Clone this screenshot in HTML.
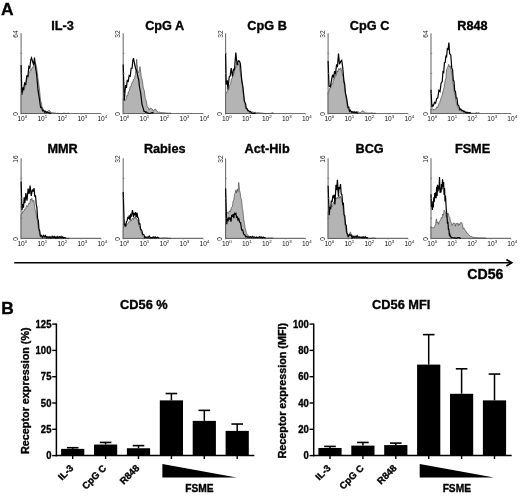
<!DOCTYPE html>
<html><head><meta charset="utf-8"><style>
html,body{margin:0;padding:0;background:#fff;}
body{width:520px;height:496px;overflow:hidden;}
svg{display:block;font-family:"Liberation Sans", sans-serif;will-change:transform;}
text[font-weight=bold]{stroke:#000;stroke-width:0.35px;}
</style></head><body>
<svg width="520" height="496" viewBox="0 0 520 496" font-family='"Liberation Sans", sans-serif'>
<rect width="520" height="496" fill="#fff"/>
<text x="1" y="14.7" font-size="17.4" font-weight="bold">A</text>
<text x="62.6" y="29.6" font-size="12.7" font-weight="bold" text-anchor="middle">IL-3</text>
<path d="M21.10,33.30 L21.10,113.50 L101.10,113.50" fill="none" stroke="#707070" stroke-width="1.1"/>
<path d="M21.10,113.50 L21.10,94.60 L22.13,93.59 L23.17,90.46 L24.20,90.48 L25.10,85.69 L26.00,84.41 L26.90,79.19 L27.77,78.21 L28.63,73.65 L29.50,72.95 L30.37,69.79 L31.23,70.40 L32.10,67.67 L33.10,67.59 L34.10,62.64 L35.40,62.57 L36.70,67.49 L38.00,78.90 L39.30,87.80 L40.60,100.62 L41.30,102.51 L42.00,107.23 L43.30,109.49 L44.25,110.86 L45.20,110.75 L46.15,111.68 L47.10,111.85 L48.10,111.49 L49.10,110.02 L50.10,111.69 L51.10,112.28 L52.10,112.85 L53.10,112.75 L54.10,112.88 L55.10,113.00 L56.54,113.42 L57.98,113.19 L59.42,113.50 L60.86,113.50 L62.30,113.50 L63.74,113.02 L65.18,113.34 L66.62,113.49 L68.06,113.14 L69.10,113.31 L69.10,113.50 Z" fill="#b4b4b4" stroke="#444" stroke-width="0.65"/>
<path d="M21.10,65.10 L21.90,94.60 L22.75,87.64 L23.60,89.03 L24.60,83.31 L25.60,85.01 L26.90,75.22 L27.85,76.88 L28.80,66.78 L29.80,68.21 L30.80,59.55 L31.50,57.88 L32.80,62.27 L33.65,64.69 L34.50,57.54 L35.40,66.71 L36.70,75.06 L38.00,90.21 L39.30,98.04 L40.60,107.46 L41.60,107.17 L42.60,110.83 L43.60,110.23 L44.60,112.16 L45.43,111.39 L46.27,112.60 L47.10,111.99 L48.54,112.67 L49.98,113.28 L51.10,113.04" fill="none" stroke="#000" stroke-width="1.2" stroke-linejoin="miter" stroke-miterlimit="3"/>
<line x1="20.50" y1="93.45" x2="22.30" y2="93.45" stroke="#777" stroke-width="0.8"/>
<line x1="20.50" y1="73.40" x2="22.30" y2="73.40" stroke="#777" stroke-width="0.8"/>
<line x1="20.50" y1="53.35" x2="22.30" y2="53.35" stroke="#777" stroke-width="0.8"/>
<line x1="21.10" y1="113.50" x2="21.10" y2="114.70" stroke="#888" stroke-width="0.6"/>
<text x="22.30" y="120.90" font-size="6.6" fill="#111" text-anchor="middle">10<tspan dy="-2.6" font-size="4.4">0</tspan></text>
<line x1="41.10" y1="113.50" x2="41.10" y2="114.70" stroke="#888" stroke-width="0.6"/>
<text x="42.30" y="120.90" font-size="6.6" fill="#111" text-anchor="middle">10<tspan dy="-2.6" font-size="4.4">1</tspan></text>
<line x1="61.10" y1="113.50" x2="61.10" y2="114.70" stroke="#888" stroke-width="0.6"/>
<text x="62.30" y="120.90" font-size="6.6" fill="#111" text-anchor="middle">10<tspan dy="-2.6" font-size="4.4">2</tspan></text>
<line x1="81.10" y1="113.50" x2="81.10" y2="114.70" stroke="#888" stroke-width="0.6"/>
<text x="82.30" y="120.90" font-size="6.6" fill="#111" text-anchor="middle">10<tspan dy="-2.6" font-size="4.4">3</tspan></text>
<line x1="101.10" y1="113.50" x2="101.10" y2="114.70" stroke="#888" stroke-width="0.6"/>
<text x="102.30" y="120.90" font-size="6.6" fill="#111" text-anchor="middle">10<tspan dy="-2.6" font-size="4.4">4</tspan></text>
<text transform="translate(18.10,30.40) rotate(-90)" font-size="6.6" fill="#222" text-anchor="end">64</text>
<text transform="translate(17.90,114.00) rotate(-90)" font-size="6.6" fill="#222" text-anchor="middle">0</text>
<text x="164.7" y="29.6" font-size="12.7" font-weight="bold" text-anchor="middle">CpG A</text>
<path d="M123.20,33.30 L123.20,113.50 L203.20,113.50" fill="none" stroke="#707070" stroke-width="1.1"/>
<path d="M123.20,113.50 L123.20,98.50 L124.20,100.20 L125.20,100.22 L126.00,99.84 L126.80,95.48 L127.60,95.80 L128.47,91.67 L129.33,91.07 L130.20,86.77 L131.07,86.36 L131.93,82.59 L132.80,82.25 L133.67,79.03 L134.53,78.61 L135.40,74.58 L136.70,59.28 L137.80,72.65 L138.90,72.15 L140.00,66.58 L141.30,76.89 L142.30,80.35 L143.30,87.82 L144.30,90.60 L145.30,98.32 L146.25,100.82 L147.20,106.82 L148.20,107.61 L149.20,110.04 L150.20,108.06 L151.20,108.44 L152.20,109.09 L153.20,111.21 L154.20,109.73 L155.20,109.31 L156.03,109.62 L156.87,111.36 L157.70,111.81 L158.57,112.24 L159.45,112.04 L160.32,112.56 L161.20,112.28 L162.12,112.88 L163.03,112.44 L163.95,112.75 L164.87,112.83 L165.78,112.92 L166.70,113.00 L168.14,113.23 L169.58,113.10 L171.02,113.02 L171.20,113.50 L171.20,113.50 Z" fill="#b4b4b4" stroke="#444" stroke-width="0.65"/>
<path d="M123.20,64.50 L124.30,100.55 L125.60,85.04 L126.43,87.84 L127.27,79.92 L128.10,82.09 L129.15,75.57 L130.20,76.22 L131.15,68.27 L132.10,68.24 L132.80,60.50 L133.50,58.11 L134.10,61.61 L135.40,67.74 L136.70,71.09 L138.00,77.24 L138.70,79.48 L139.40,86.52 L140.70,93.23 L142.00,104.36 L143.30,108.69 L144.00,111.35 L144.70,111.28 L145.53,112.30 L146.37,112.00 L147.20,112.70 L148.64,113.43 L150.08,113.50 L151.52,112.80 L152.96,112.61 L153.20,113.29" fill="none" stroke="#000" stroke-width="1.2" stroke-linejoin="miter" stroke-miterlimit="3"/>
<line x1="122.60" y1="93.45" x2="124.40" y2="93.45" stroke="#777" stroke-width="0.8"/>
<line x1="122.60" y1="73.40" x2="124.40" y2="73.40" stroke="#777" stroke-width="0.8"/>
<line x1="122.60" y1="53.35" x2="124.40" y2="53.35" stroke="#777" stroke-width="0.8"/>
<line x1="123.20" y1="113.50" x2="123.20" y2="114.70" stroke="#888" stroke-width="0.6"/>
<text x="124.40" y="120.90" font-size="6.6" fill="#111" text-anchor="middle">10<tspan dy="-2.6" font-size="4.4">0</tspan></text>
<line x1="143.20" y1="113.50" x2="143.20" y2="114.70" stroke="#888" stroke-width="0.6"/>
<text x="144.40" y="120.90" font-size="6.6" fill="#111" text-anchor="middle">10<tspan dy="-2.6" font-size="4.4">1</tspan></text>
<line x1="163.20" y1="113.50" x2="163.20" y2="114.70" stroke="#888" stroke-width="0.6"/>
<text x="164.40" y="120.90" font-size="6.6" fill="#111" text-anchor="middle">10<tspan dy="-2.6" font-size="4.4">2</tspan></text>
<line x1="183.20" y1="113.50" x2="183.20" y2="114.70" stroke="#888" stroke-width="0.6"/>
<text x="184.40" y="120.90" font-size="6.6" fill="#111" text-anchor="middle">10<tspan dy="-2.6" font-size="4.4">3</tspan></text>
<line x1="203.20" y1="113.50" x2="203.20" y2="114.70" stroke="#888" stroke-width="0.6"/>
<text x="204.40" y="120.90" font-size="6.6" fill="#111" text-anchor="middle">10<tspan dy="-2.6" font-size="4.4">4</tspan></text>
<text transform="translate(120.20,30.40) rotate(-90)" font-size="6.6" fill="#222" text-anchor="end">32</text>
<text transform="translate(120.00,114.00) rotate(-90)" font-size="6.6" fill="#222" text-anchor="middle">0</text>
<text x="267.1" y="29.6" font-size="12.7" font-weight="bold" text-anchor="middle">CpG B</text>
<path d="M225.60,33.30 L225.60,113.50 L305.60,113.50" fill="none" stroke="#707070" stroke-width="1.1"/>
<path d="M225.60,113.50 L225.60,93.40 L226.60,93.03 L227.60,90.26 L228.60,90.08 L229.60,85.31 L230.60,83.75 L231.47,78.63 L232.33,78.35 L233.20,74.28 L234.20,73.63 L235.20,67.16 L236.15,67.36 L237.10,63.24 L238.10,65.24 L239.10,63.26 L240.40,73.07 L241.70,78.65 L243.00,91.99 L244.30,100.77 L245.60,108.32 L246.60,108.93 L247.60,110.96 L248.60,110.66 L249.60,111.88 L250.60,111.79 L251.43,112.26 L252.27,111.85 L253.10,112.60 L253.93,112.03 L254.77,112.70 L255.60,112.22 L256.46,112.82 L257.31,112.51 L258.17,112.71 L259.03,112.79 L259.89,112.86 L260.74,112.93 L261.60,113.00 L263.04,113.23 L264.48,113.44 L265.92,113.50 L267.36,113.50 L268.80,113.50 L270.24,113.50 L271.68,113.00 L273.12,112.66 L273.60,113.32 L273.60,113.50 Z" fill="#b4b4b4" stroke="#444" stroke-width="0.65"/>
<path d="M225.60,53.50 L226.20,84.58 L227.30,80.41 L227.90,89.74 L229.20,77.04 L230.20,75.92 L231.20,68.05 L232.50,76.45 L233.50,69.35 L234.50,69.65 L235.80,52.65 L237.10,65.00 L238.40,60.81 L239.50,61.23 L240.40,63.90 L241.70,80.10 L243.00,87.37 L244.30,100.75 L245.60,103.81 L246.30,108.38 L247.00,108.45 L247.80,110.59 L248.60,110.35 L249.60,111.99 L250.60,111.44 L251.60,113.06 L253.04,113.39 L254.48,113.38 L255.60,112.67" fill="none" stroke="#000" stroke-width="1.2" stroke-linejoin="miter" stroke-miterlimit="3"/>
<line x1="225.00" y1="93.45" x2="226.80" y2="93.45" stroke="#777" stroke-width="0.8"/>
<line x1="225.00" y1="73.40" x2="226.80" y2="73.40" stroke="#777" stroke-width="0.8"/>
<line x1="225.00" y1="53.35" x2="226.80" y2="53.35" stroke="#777" stroke-width="0.8"/>
<line x1="225.60" y1="113.50" x2="225.60" y2="114.70" stroke="#888" stroke-width="0.6"/>
<text x="226.80" y="120.90" font-size="6.6" fill="#111" text-anchor="middle">10<tspan dy="-2.6" font-size="4.4">0</tspan></text>
<line x1="245.60" y1="113.50" x2="245.60" y2="114.70" stroke="#888" stroke-width="0.6"/>
<text x="246.80" y="120.90" font-size="6.6" fill="#111" text-anchor="middle">10<tspan dy="-2.6" font-size="4.4">1</tspan></text>
<line x1="265.60" y1="113.50" x2="265.60" y2="114.70" stroke="#888" stroke-width="0.6"/>
<text x="266.80" y="120.90" font-size="6.6" fill="#111" text-anchor="middle">10<tspan dy="-2.6" font-size="4.4">2</tspan></text>
<line x1="285.60" y1="113.50" x2="285.60" y2="114.70" stroke="#888" stroke-width="0.6"/>
<text x="286.80" y="120.90" font-size="6.6" fill="#111" text-anchor="middle">10<tspan dy="-2.6" font-size="4.4">3</tspan></text>
<line x1="305.60" y1="113.50" x2="305.60" y2="114.70" stroke="#888" stroke-width="0.6"/>
<text x="306.80" y="120.90" font-size="6.6" fill="#111" text-anchor="middle">10<tspan dy="-2.6" font-size="4.4">4</tspan></text>
<text transform="translate(222.60,30.40) rotate(-90)" font-size="6.6" fill="#222" text-anchor="end">32</text>
<text transform="translate(222.40,114.00) rotate(-90)" font-size="6.6" fill="#222" text-anchor="middle">0</text>
<text x="369.6" y="29.6" font-size="12.7" font-weight="bold" text-anchor="middle">CpG C</text>
<path d="M328.10,33.30 L328.10,113.50 L408.10,113.50" fill="none" stroke="#707070" stroke-width="1.1"/>
<path d="M328.10,113.50 L328.10,92.00 L329.03,91.46 L329.97,87.80 L330.90,87.34 L331.80,83.84 L332.70,84.01 L333.60,78.62 L334.47,78.76 L335.33,74.09 L336.20,75.57 L337.07,70.78 L337.93,72.09 L338.80,68.33 L339.80,69.83 L340.80,67.78 L342.10,72.96 L343.40,77.50 L344.70,89.07 L346.00,97.33 L347.30,106.91 L348.60,109.79 L349.43,111.32 L350.27,111.23 L351.10,112.18 L352.10,111.91 L353.10,112.37 L354.10,112.05 L355.10,112.22 L356.10,111.52 L357.10,111.68 L358.10,111.53 L359.10,112.49 L360.10,112.70 L361.10,112.21 L362.10,110.90 L363.10,111.01 L364.10,111.45 L365.10,112.90 L365.93,112.93 L366.77,112.97 L367.60,113.00 L368.43,113.03 L369.27,113.07 L370.10,113.10 L371.54,112.71 L372.98,113.25 L374.42,113.21 L375.86,113.22 L376.10,113.50 L376.10,113.50 Z" fill="#b4b4b4" stroke="#444" stroke-width="0.65"/>
<path d="M328.10,61.10 L329.00,85.98 L330.30,86.77 L331.60,79.91 L332.60,74.62 L333.60,77.66 L334.55,71.33 L335.50,73.91 L336.50,65.22 L337.50,66.30 L338.50,53.61 L339.50,64.28 L340.80,61.34 L341.70,60.35 L342.70,67.21 L344.00,81.76 L344.70,83.96 L345.40,92.98 L346.70,98.42 L348.00,107.45 L348.80,107.28 L349.60,111.26 L350.43,110.30 L351.27,112.03 L352.10,111.54 L353.10,112.56 L354.10,111.75 L355.10,112.75 L356.10,112.12 L357.54,113.28 L358.10,112.68" fill="none" stroke="#000" stroke-width="1.2" stroke-linejoin="miter" stroke-miterlimit="3"/>
<line x1="327.50" y1="93.45" x2="329.30" y2="93.45" stroke="#777" stroke-width="0.8"/>
<line x1="327.50" y1="73.40" x2="329.30" y2="73.40" stroke="#777" stroke-width="0.8"/>
<line x1="327.50" y1="53.35" x2="329.30" y2="53.35" stroke="#777" stroke-width="0.8"/>
<line x1="328.10" y1="113.50" x2="328.10" y2="114.70" stroke="#888" stroke-width="0.6"/>
<text x="329.30" y="120.90" font-size="6.6" fill="#111" text-anchor="middle">10<tspan dy="-2.6" font-size="4.4">0</tspan></text>
<line x1="348.10" y1="113.50" x2="348.10" y2="114.70" stroke="#888" stroke-width="0.6"/>
<text x="349.30" y="120.90" font-size="6.6" fill="#111" text-anchor="middle">10<tspan dy="-2.6" font-size="4.4">1</tspan></text>
<line x1="368.10" y1="113.50" x2="368.10" y2="114.70" stroke="#888" stroke-width="0.6"/>
<text x="369.30" y="120.90" font-size="6.6" fill="#111" text-anchor="middle">10<tspan dy="-2.6" font-size="4.4">2</tspan></text>
<line x1="388.10" y1="113.50" x2="388.10" y2="114.70" stroke="#888" stroke-width="0.6"/>
<text x="389.30" y="120.90" font-size="6.6" fill="#111" text-anchor="middle">10<tspan dy="-2.6" font-size="4.4">3</tspan></text>
<line x1="408.10" y1="113.50" x2="408.10" y2="114.70" stroke="#888" stroke-width="0.6"/>
<text x="409.30" y="120.90" font-size="6.6" fill="#111" text-anchor="middle">10<tspan dy="-2.6" font-size="4.4">4</tspan></text>
<text transform="translate(325.10,30.40) rotate(-90)" font-size="6.6" fill="#222" text-anchor="end">32</text>
<text transform="translate(324.90,114.00) rotate(-90)" font-size="6.6" fill="#222" text-anchor="middle">0</text>
<text x="472.5" y="29.6" font-size="12.7" font-weight="bold" text-anchor="middle">R848</text>
<path d="M431.00,33.30 L431.00,113.50 L511.00,113.50" fill="none" stroke="#707070" stroke-width="1.1"/>
<path d="M431.00,113.50 L431.00,108.90 L431.98,109.60 L432.95,108.65 L433.93,110.04 L434.90,109.30 L435.87,109.12 L436.83,106.93 L437.80,107.43 L438.80,103.89 L439.80,102.25 L440.80,98.68 L441.90,96.17 L443.00,91.31 L444.10,87.42 L445.20,80.33 L445.90,78.18 L446.60,69.54 L447.80,67.12 L448.70,64.30 L449.60,67.02 L450.30,65.80 L451.00,69.54 L452.20,75.44 L452.95,83.25 L453.70,86.04 L454.45,92.85 L455.20,95.56 L455.90,101.25 L456.60,102.93 L457.50,106.70 L458.40,108.49 L459.50,110.25 L460.60,110.52 L461.45,111.39 L462.30,111.32 L463.15,112.24 L464.00,112.19 L464.83,112.64 L465.67,112.34 L466.50,112.74 L467.33,112.77 L468.17,112.88 L469.00,113.00 L470.44,113.47 L471.88,113.09 L473.32,113.23 L474.76,113.50 L476.20,112.62 L477.64,112.88 L479.00,112.64 L479.00,113.50 Z" fill="#b4b4b4" stroke="#444" stroke-width="0.65"/>
<path d="M431.00,89.80 L431.90,107.25 L432.65,105.19 L433.40,105.74 L434.50,102.25 L435.60,103.23 L436.70,98.51 L437.80,97.80 L438.90,90.32 L440.00,91.56 L441.10,83.18 L442.20,81.53 L442.95,71.72 L443.70,72.42 L444.45,62.65 L445.20,62.41 L445.90,56.23 L446.60,56.61 L447.35,48.70 L448.10,49.16 L448.90,42.56 L449.60,53.48 L450.80,55.10 L451.80,68.29 L452.55,69.66 L453.30,79.96 L454.00,81.15 L454.70,90.84 L455.45,91.36 L456.20,98.02 L456.95,98.12 L457.70,104.66 L458.80,105.76 L459.90,109.72 L460.87,109.00 L461.83,110.56 L462.80,110.41 L463.60,111.47 L464.40,111.20 L465.20,112.30 L466.00,111.98 L466.83,112.90 L467.67,112.21 L468.50,112.95 L469.33,112.70 L470.17,112.80 L471.00,112.90" fill="none" stroke="#000" stroke-width="1.2" stroke-linejoin="miter" stroke-miterlimit="3"/>
<line x1="430.40" y1="93.45" x2="432.20" y2="93.45" stroke="#777" stroke-width="0.8"/>
<line x1="430.40" y1="73.40" x2="432.20" y2="73.40" stroke="#777" stroke-width="0.8"/>
<line x1="430.40" y1="53.35" x2="432.20" y2="53.35" stroke="#777" stroke-width="0.8"/>
<line x1="431.00" y1="113.50" x2="431.00" y2="114.70" stroke="#888" stroke-width="0.6"/>
<text x="432.20" y="120.90" font-size="6.6" fill="#111" text-anchor="middle">10<tspan dy="-2.6" font-size="4.4">0</tspan></text>
<line x1="451.00" y1="113.50" x2="451.00" y2="114.70" stroke="#888" stroke-width="0.6"/>
<text x="452.20" y="120.90" font-size="6.6" fill="#111" text-anchor="middle">10<tspan dy="-2.6" font-size="4.4">1</tspan></text>
<line x1="471.00" y1="113.50" x2="471.00" y2="114.70" stroke="#888" stroke-width="0.6"/>
<text x="472.20" y="120.90" font-size="6.6" fill="#111" text-anchor="middle">10<tspan dy="-2.6" font-size="4.4">2</tspan></text>
<line x1="491.00" y1="113.50" x2="491.00" y2="114.70" stroke="#888" stroke-width="0.6"/>
<text x="492.20" y="120.90" font-size="6.6" fill="#111" text-anchor="middle">10<tspan dy="-2.6" font-size="4.4">3</tspan></text>
<line x1="511.00" y1="113.50" x2="511.00" y2="114.70" stroke="#888" stroke-width="0.6"/>
<text x="512.20" y="120.90" font-size="6.6" fill="#111" text-anchor="middle">10<tspan dy="-2.6" font-size="4.4">4</tspan></text>
<text transform="translate(428.00,30.40) rotate(-90)" font-size="6.6" fill="#222" text-anchor="end">64</text>
<text transform="translate(427.80,114.00) rotate(-90)" font-size="6.6" fill="#222" text-anchor="middle">0</text>
<text x="62.6" y="152.9" font-size="12.7" font-weight="bold" text-anchor="middle">MMR</text>
<path d="M21.10,158.30 L21.10,238.40 L101.10,238.40" fill="none" stroke="#707070" stroke-width="1.1"/>
<path d="M21.10,238.40 L21.10,214.40 L21.90,214.07 L22.70,211.52 L23.50,211.91 L24.55,209.10 L25.60,208.94 L26.65,205.46 L27.70,206.65 L28.75,203.10 L29.80,203.60 L30.50,199.05 L31.20,200.14 L31.90,198.19 L32.60,201.57 L33.80,200.16 L35.10,209.93 L35.85,211.47 L36.60,217.37 L37.45,220.90 L38.30,228.44 L39.00,230.69 L39.70,235.42 L40.40,235.88 L41.10,237.60 L42.10,237.68 L43.10,237.75 L44.10,237.83 L45.10,237.90 L46.54,237.97 L47.98,238.27 L49.42,238.35 L50.86,238.40 L52.30,238.40 L53.74,238.40 L55.18,237.84 L56.62,238.40 L58.06,238.40 L59.50,238.40 L60.94,237.71 L62.38,237.67 L63.82,237.93 L65.26,238.40 L66.70,238.40 L68.14,238.40 L69.10,238.20 L69.10,238.40 Z" fill="#b4b4b4" stroke="#444" stroke-width="0.65"/>
<path d="M21.10,181.40 L22.00,210.18 L22.75,204.18 L23.50,207.60 L24.20,197.25 L24.90,203.30 L25.90,192.99 L27.00,200.76 L28.10,188.52 L29.10,193.98 L30.10,185.65 L31.20,195.90 L32.40,189.56 L33.30,191.56 L34.05,188.14 L34.80,196.60 L35.50,195.29 L36.20,204.13 L36.90,207.70 L37.60,218.13 L38.30,220.62 L39.00,228.94 L39.70,231.00 L40.40,235.93 L41.45,235.32 L42.50,237.35 L43.55,235.47 L44.60,236.93 L45.43,235.55 L46.27,237.68 L47.10,236.68 L48.10,237.76 L49.10,236.68 L50.10,237.94 L51.10,236.51 L51.93,237.74 L52.77,236.38 L53.60,237.44 L54.43,236.48 L55.27,238.08 L56.10,236.82 L56.93,238.02 L57.77,236.62 L58.60,237.63 L59.43,236.71 L60.27,237.79 L61.10,236.43 L61.93,238.03 L62.77,236.75 L63.60,238.07 L64.43,237.67 L65.27,237.78 L66.10,237.90" fill="none" stroke="#000" stroke-width="1.2" stroke-linejoin="miter" stroke-miterlimit="3"/>
<line x1="20.50" y1="218.38" x2="22.30" y2="218.38" stroke="#777" stroke-width="0.8"/>
<line x1="20.50" y1="198.35" x2="22.30" y2="198.35" stroke="#777" stroke-width="0.8"/>
<line x1="20.50" y1="178.33" x2="22.30" y2="178.33" stroke="#777" stroke-width="0.8"/>
<line x1="21.10" y1="238.40" x2="21.10" y2="239.60" stroke="#888" stroke-width="0.6"/>
<text x="22.30" y="245.80" font-size="6.6" fill="#111" text-anchor="middle">10<tspan dy="-2.6" font-size="4.4">0</tspan></text>
<line x1="41.10" y1="238.40" x2="41.10" y2="239.60" stroke="#888" stroke-width="0.6"/>
<text x="42.30" y="245.80" font-size="6.6" fill="#111" text-anchor="middle">10<tspan dy="-2.6" font-size="4.4">1</tspan></text>
<line x1="61.10" y1="238.40" x2="61.10" y2="239.60" stroke="#888" stroke-width="0.6"/>
<text x="62.30" y="245.80" font-size="6.6" fill="#111" text-anchor="middle">10<tspan dy="-2.6" font-size="4.4">2</tspan></text>
<line x1="81.10" y1="238.40" x2="81.10" y2="239.60" stroke="#888" stroke-width="0.6"/>
<text x="82.30" y="245.80" font-size="6.6" fill="#111" text-anchor="middle">10<tspan dy="-2.6" font-size="4.4">3</tspan></text>
<line x1="101.10" y1="238.40" x2="101.10" y2="239.60" stroke="#888" stroke-width="0.6"/>
<text x="102.30" y="245.80" font-size="6.6" fill="#111" text-anchor="middle">10<tspan dy="-2.6" font-size="4.4">4</tspan></text>
<text transform="translate(18.10,155.40) rotate(-90)" font-size="6.6" fill="#222" text-anchor="end">16</text>
<text transform="translate(17.90,238.90) rotate(-90)" font-size="6.6" fill="#222" text-anchor="middle">0</text>
<text x="164.7" y="152.9" font-size="12.7" font-weight="bold" text-anchor="middle">Rabies</text>
<path d="M123.20,158.30 L123.20,238.40 L203.20,238.40" fill="none" stroke="#707070" stroke-width="1.1"/>
<path d="M123.20,238.40 L123.20,226.70 L124.03,227.37 L124.85,225.13 L125.67,226.54 L126.50,224.77 L127.55,224.24 L128.60,221.90 L129.53,222.19 L130.47,220.03 L131.40,220.81 L132.33,218.17 L133.27,219.71 L134.20,217.15 L134.90,218.62 L135.60,215.86 L136.70,219.32 L137.80,219.87 L138.85,225.52 L139.90,227.44 L140.95,231.87 L142.00,234.02 L142.85,236.22 L143.70,237.37 L144.57,237.68 L145.45,237.75 L146.32,237.83 L147.20,237.90 L148.64,238.40 L150.08,238.40 L151.52,238.40 L152.96,237.85 L154.40,238.40 L155.84,237.84 L157.28,237.53 L158.72,238.16 L160.16,238.30 L161.60,238.18 L163.04,237.91 L164.48,237.80 L165.92,238.00 L167.36,237.96 L168.80,238.40 L170.24,238.40 L171.20,238.40 L171.20,238.40 Z" fill="#b4b4b4" stroke="#444" stroke-width="0.65"/>
<path d="M123.20,192.10 L124.30,225.68 L125.00,223.52 L125.70,226.74 L126.45,221.75 L127.20,220.45 L127.90,216.95 L128.60,218.84 L129.30,215.46 L130.00,220.18 L130.70,214.75 L131.40,215.86 L132.50,210.07 L133.50,217.11 L134.20,212.92 L134.90,215.28 L135.60,212.05 L136.30,216.77 L137.05,212.79 L137.80,217.63 L138.50,218.07 L139.20,224.39 L139.90,223.23 L140.60,229.22 L141.65,230.14 L142.70,234.25 L143.75,234.57 L144.80,237.57 L145.60,236.92 L146.40,237.60 L147.20,237.02 L148.20,237.57 L149.20,236.08 L150.20,237.59 L151.20,237.60 L152.20,237.85 L153.20,236.88 L154.20,237.77 L155.20,236.91 L156.20,237.89 L157.20,237.15 L158.20,237.65 L159.20,237.80" fill="none" stroke="#000" stroke-width="1.2" stroke-linejoin="miter" stroke-miterlimit="3"/>
<line x1="122.60" y1="218.38" x2="124.40" y2="218.38" stroke="#777" stroke-width="0.8"/>
<line x1="122.60" y1="198.35" x2="124.40" y2="198.35" stroke="#777" stroke-width="0.8"/>
<line x1="122.60" y1="178.33" x2="124.40" y2="178.33" stroke="#777" stroke-width="0.8"/>
<line x1="123.20" y1="238.40" x2="123.20" y2="239.60" stroke="#888" stroke-width="0.6"/>
<text x="124.40" y="245.80" font-size="6.6" fill="#111" text-anchor="middle">10<tspan dy="-2.6" font-size="4.4">0</tspan></text>
<line x1="143.20" y1="238.40" x2="143.20" y2="239.60" stroke="#888" stroke-width="0.6"/>
<text x="144.40" y="245.80" font-size="6.6" fill="#111" text-anchor="middle">10<tspan dy="-2.6" font-size="4.4">1</tspan></text>
<line x1="163.20" y1="238.40" x2="163.20" y2="239.60" stroke="#888" stroke-width="0.6"/>
<text x="164.40" y="245.80" font-size="6.6" fill="#111" text-anchor="middle">10<tspan dy="-2.6" font-size="4.4">2</tspan></text>
<line x1="183.20" y1="238.40" x2="183.20" y2="239.60" stroke="#888" stroke-width="0.6"/>
<text x="184.40" y="245.80" font-size="6.6" fill="#111" text-anchor="middle">10<tspan dy="-2.6" font-size="4.4">3</tspan></text>
<line x1="203.20" y1="238.40" x2="203.20" y2="239.60" stroke="#888" stroke-width="0.6"/>
<text x="204.40" y="245.80" font-size="6.6" fill="#111" text-anchor="middle">10<tspan dy="-2.6" font-size="4.4">4</tspan></text>
<text transform="translate(120.20,155.40) rotate(-90)" font-size="6.6" fill="#222" text-anchor="end">32</text>
<text transform="translate(120.00,238.90) rotate(-90)" font-size="6.6" fill="#222" text-anchor="middle">0</text>
<text x="267.1" y="152.9" font-size="12.7" font-weight="bold" text-anchor="middle">Act-Hib</text>
<path d="M225.60,158.30 L225.60,238.40 L305.60,238.40" fill="none" stroke="#707070" stroke-width="1.1"/>
<path d="M225.60,238.40 L225.60,212.40 L226.53,212.98 L227.47,212.05 L228.40,213.63 L229.35,210.85 L230.30,211.94 L231.35,207.61 L232.40,206.48 L233.10,200.95 L233.80,200.18 L234.50,194.30 L235.20,193.05 L235.90,189.98 L236.60,192.87 L237.30,189.15 L238.00,191.60 L238.80,182.44 L239.50,190.26 L240.20,193.08 L240.90,198.90 L241.60,199.38 L242.30,208.21 L243.00,211.71 L243.70,219.10 L244.40,223.31 L245.10,227.75 L245.80,230.58 L246.50,233.37 L247.20,234.19 L248.00,235.83 L248.80,235.87 L249.60,237.09 L250.60,237.01 L251.60,237.69 L252.60,237.90 L254.04,238.31 L255.48,237.56 L256.92,237.65 L258.36,237.74 L259.80,237.98 L261.24,237.61 L262.68,237.58 L264.12,238.09 L265.56,237.86 L267.00,238.40 L268.44,237.85 L269.88,238.21 L271.32,237.82 L272.76,237.96 L273.60,238.40 L273.60,238.40 Z" fill="#b4b4b4" stroke="#444" stroke-width="0.65"/>
<path d="M225.60,188.60 L226.70,224.14 L227.45,219.17 L228.20,220.37 L228.90,217.21 L229.60,219.58 L230.30,217.62 L231.00,221.62 L231.70,214.94 L232.40,216.72 L233.10,214.06 L233.80,218.15 L234.50,212.79 L235.20,214.27 L235.90,213.54 L236.60,217.89 L237.30,216.34 L238.00,220.59 L238.75,218.00 L239.50,222.08 L240.55,222.57 L241.60,229.92 L242.65,229.94 L243.70,234.19 L244.75,234.70 L245.80,236.88 L246.73,236.41 L247.67,237.24 L248.60,236.91 L249.60,237.41 L250.60,236.53 L251.60,237.54 L252.60,236.47 L253.60,237.52 L254.60,236.92 L255.60,237.78 L256.43,237.04 L257.27,237.65 L258.10,237.09 L258.93,237.57 L259.77,236.63 L260.60,237.44 L261.43,236.91 L262.27,237.82 L263.10,237.01 L263.93,237.60 L264.77,237.70 L265.60,237.80" fill="none" stroke="#000" stroke-width="1.2" stroke-linejoin="miter" stroke-miterlimit="3"/>
<line x1="225.00" y1="218.38" x2="226.80" y2="218.38" stroke="#777" stroke-width="0.8"/>
<line x1="225.00" y1="198.35" x2="226.80" y2="198.35" stroke="#777" stroke-width="0.8"/>
<line x1="225.00" y1="178.33" x2="226.80" y2="178.33" stroke="#777" stroke-width="0.8"/>
<line x1="225.60" y1="238.40" x2="225.60" y2="239.60" stroke="#888" stroke-width="0.6"/>
<text x="226.80" y="245.80" font-size="6.6" fill="#111" text-anchor="middle">10<tspan dy="-2.6" font-size="4.4">0</tspan></text>
<line x1="245.60" y1="238.40" x2="245.60" y2="239.60" stroke="#888" stroke-width="0.6"/>
<text x="246.80" y="245.80" font-size="6.6" fill="#111" text-anchor="middle">10<tspan dy="-2.6" font-size="4.4">1</tspan></text>
<line x1="265.60" y1="238.40" x2="265.60" y2="239.60" stroke="#888" stroke-width="0.6"/>
<text x="266.80" y="245.80" font-size="6.6" fill="#111" text-anchor="middle">10<tspan dy="-2.6" font-size="4.4">2</tspan></text>
<line x1="285.60" y1="238.40" x2="285.60" y2="239.60" stroke="#888" stroke-width="0.6"/>
<text x="286.80" y="245.80" font-size="6.6" fill="#111" text-anchor="middle">10<tspan dy="-2.6" font-size="4.4">3</tspan></text>
<line x1="305.60" y1="238.40" x2="305.60" y2="239.60" stroke="#888" stroke-width="0.6"/>
<text x="306.80" y="245.80" font-size="6.6" fill="#111" text-anchor="middle">10<tspan dy="-2.6" font-size="4.4">4</tspan></text>
<text transform="translate(222.60,155.40) rotate(-90)" font-size="6.6" fill="#222" text-anchor="end">32</text>
<text transform="translate(222.40,238.90) rotate(-90)" font-size="6.6" fill="#222" text-anchor="middle">0</text>
<text x="369.6" y="152.9" font-size="12.7" font-weight="bold" text-anchor="middle">BCG</text>
<path d="M328.10,158.30 L328.10,238.40 L408.10,238.40" fill="none" stroke="#707070" stroke-width="1.1"/>
<path d="M328.10,238.40 L328.10,211.40 L329.10,210.66 L330.10,207.55 L330.90,208.23 L331.70,205.36 L332.50,206.51 L333.45,201.85 L334.40,203.61 L335.35,198.37 L336.30,199.03 L337.13,197.09 L337.97,198.66 L338.80,194.55 L339.63,198.33 L340.47,196.31 L341.30,199.00 L342.30,202.33 L343.30,210.04 L344.60,219.22 L345.90,231.20 L346.60,232.44 L347.30,236.14 L348.30,236.44 L349.35,234.75 L350.40,231.88 L351.25,234.42 L352.10,234.87 L353.10,236.30 L354.10,236.06 L355.10,237.00 L356.10,236.66 L357.10,237.39 L358.10,237.30 L359.10,237.78 L360.10,237.65 L361.10,237.78 L362.10,237.90 L363.54,238.40 L364.98,237.60 L366.42,237.96 L367.86,238.40 L369.30,238.40 L370.74,238.40 L372.18,237.97 L373.62,237.89 L375.06,238.40 L376.10,238.40 L376.10,238.40 Z" fill="#b4b4b4" stroke="#444" stroke-width="0.65"/>
<path d="M328.10,185.70 L329.20,215.17 L329.90,206.87 L330.60,209.34 L331.35,200.58 L332.10,201.86 L332.80,195.52 L333.50,198.05 L334.20,194.71 L334.90,204.38 L336.00,184.89 L336.70,190.11 L337.40,179.86 L338.40,196.43 L339.10,186.98 L339.80,188.97 L340.50,184.04 L341.20,193.87 L341.95,194.84 L342.70,204.30 L343.40,203.66 L344.10,214.89 L344.80,215.83 L345.50,224.73 L346.20,224.96 L346.90,233.16 L347.60,233.96 L348.30,237.15 L349.35,234.45 L350.40,235.15 L351.25,235.10 L352.10,238.05 L353.10,236.46 L354.10,237.51 L355.10,236.22 L356.10,237.48 L357.10,235.62 L358.10,237.54 L359.10,236.74 L360.10,237.60 L361.10,237.08 L362.10,237.93 L363.10,236.63 L364.10,237.80 L365.10,236.60 L366.10,237.73 L367.10,237.65 L368.10,237.90" fill="none" stroke="#000" stroke-width="1.2" stroke-linejoin="miter" stroke-miterlimit="3"/>
<line x1="327.50" y1="218.38" x2="329.30" y2="218.38" stroke="#777" stroke-width="0.8"/>
<line x1="327.50" y1="198.35" x2="329.30" y2="198.35" stroke="#777" stroke-width="0.8"/>
<line x1="327.50" y1="178.33" x2="329.30" y2="178.33" stroke="#777" stroke-width="0.8"/>
<line x1="328.10" y1="238.40" x2="328.10" y2="239.60" stroke="#888" stroke-width="0.6"/>
<text x="329.30" y="245.80" font-size="6.6" fill="#111" text-anchor="middle">10<tspan dy="-2.6" font-size="4.4">0</tspan></text>
<line x1="348.10" y1="238.40" x2="348.10" y2="239.60" stroke="#888" stroke-width="0.6"/>
<text x="349.30" y="245.80" font-size="6.6" fill="#111" text-anchor="middle">10<tspan dy="-2.6" font-size="4.4">1</tspan></text>
<line x1="368.10" y1="238.40" x2="368.10" y2="239.60" stroke="#888" stroke-width="0.6"/>
<text x="369.30" y="245.80" font-size="6.6" fill="#111" text-anchor="middle">10<tspan dy="-2.6" font-size="4.4">2</tspan></text>
<line x1="388.10" y1="238.40" x2="388.10" y2="239.60" stroke="#888" stroke-width="0.6"/>
<text x="389.30" y="245.80" font-size="6.6" fill="#111" text-anchor="middle">10<tspan dy="-2.6" font-size="4.4">3</tspan></text>
<line x1="408.10" y1="238.40" x2="408.10" y2="239.60" stroke="#888" stroke-width="0.6"/>
<text x="409.30" y="245.80" font-size="6.6" fill="#111" text-anchor="middle">10<tspan dy="-2.6" font-size="4.4">4</tspan></text>
<text transform="translate(325.10,155.40) rotate(-90)" font-size="6.6" fill="#222" text-anchor="end">16</text>
<text transform="translate(324.90,238.90) rotate(-90)" font-size="6.6" fill="#222" text-anchor="middle">0</text>
<text x="472.5" y="152.9" font-size="12.7" font-weight="bold" text-anchor="middle">FSME</text>
<path d="M431.00,158.30 L431.00,238.40 L511.00,238.40" fill="none" stroke="#707070" stroke-width="1.1"/>
<path d="M431.00,238.40 L431.00,226.70 L431.90,227.88 L432.80,227.50 L433.90,228.20 L435.00,225.66 L435.70,223.65 L436.40,218.81 L437.10,222.97 L437.80,221.89 L438.50,224.28 L439.55,221.27 L440.60,220.07 L441.30,217.38 L442.00,218.16 L442.70,214.01 L443.40,215.27 L444.10,210.22 L444.80,211.31 L445.55,212.41 L446.30,217.43 L447.00,213.18 L447.70,213.82 L448.40,213.45 L449.10,216.56 L449.80,217.40 L450.50,221.74 L451.20,222.44 L451.90,225.68 L452.95,223.44 L454.00,223.03 L454.70,223.14 L455.40,226.31 L456.10,223.33 L456.80,223.63 L457.55,223.26 L458.30,225.83 L459.00,223.47 L459.70,224.86 L460.75,222.35 L461.80,222.82 L462.50,224.53 L463.20,228.67 L463.90,227.88 L464.60,229.91 L465.65,230.42 L466.70,233.02 L467.63,233.24 L468.57,234.99 L469.50,235.36 L470.40,236.55 L471.30,236.36 L472.20,236.98 L473.10,237.08 L473.94,237.61 L474.79,237.25 L475.63,237.75 L476.47,237.60 L477.31,237.70 L478.16,237.80 L479.00,237.90 L479.88,237.93 L480.75,237.95 L481.62,237.97 L482.50,238.00 L483.38,238.03 L484.25,238.05 L485.12,238.08 L486.00,238.10 L486.00,238.40 Z" fill="#b4b4b4" stroke="#444" stroke-width="0.65"/>
<path d="M431.00,194.20 L431.45,206.67 L431.90,205.61 L432.35,209.99 L432.80,201.19 L433.30,207.38 L433.80,197.30 L434.30,201.81 L434.77,192.94 L435.23,198.09 L435.70,192.38 L436.17,198.24 L436.63,186.68 L437.10,195.86 L437.57,184.67 L438.03,191.37 L438.50,185.72 L439.00,189.50 L439.50,177.08 L440.05,192.96 L440.60,187.98 L441.07,192.35 L441.53,183.99 L442.00,189.57 L442.55,179.30 L443.10,186.87 L443.60,181.98 L444.10,194.90 L444.57,188.01 L445.03,201.58 L445.50,195.53 L446.30,209.72 L447.00,215.97 L447.47,223.66 L447.93,221.83 L448.40,229.18 L448.87,229.26 L449.33,234.63 L449.80,234.28 L450.27,236.45 L450.73,236.37 L451.20,237.60 L451.74,237.64 L452.29,237.69 L452.83,237.73 L453.37,237.77 L453.91,237.81 L454.46,237.86 L455.00,237.90 L455.88,238.08 L456.76,238.38 L457.64,237.53 L458.52,237.65 L459.40,237.52 L460.28,238.40 L461.00,238.40" fill="none" stroke="#000" stroke-width="1.2" stroke-linejoin="miter" stroke-miterlimit="3"/>
<line x1="430.40" y1="218.38" x2="432.20" y2="218.38" stroke="#777" stroke-width="0.8"/>
<line x1="430.40" y1="198.35" x2="432.20" y2="198.35" stroke="#777" stroke-width="0.8"/>
<line x1="430.40" y1="178.33" x2="432.20" y2="178.33" stroke="#777" stroke-width="0.8"/>
<line x1="431.00" y1="238.40" x2="431.00" y2="239.60" stroke="#888" stroke-width="0.6"/>
<text x="432.20" y="245.80" font-size="6.6" fill="#111" text-anchor="middle">10<tspan dy="-2.6" font-size="4.4">0</tspan></text>
<line x1="451.00" y1="238.40" x2="451.00" y2="239.60" stroke="#888" stroke-width="0.6"/>
<text x="452.20" y="245.80" font-size="6.6" fill="#111" text-anchor="middle">10<tspan dy="-2.6" font-size="4.4">1</tspan></text>
<line x1="471.00" y1="238.40" x2="471.00" y2="239.60" stroke="#888" stroke-width="0.6"/>
<text x="472.20" y="245.80" font-size="6.6" fill="#111" text-anchor="middle">10<tspan dy="-2.6" font-size="4.4">2</tspan></text>
<line x1="491.00" y1="238.40" x2="491.00" y2="239.60" stroke="#888" stroke-width="0.6"/>
<text x="492.20" y="245.80" font-size="6.6" fill="#111" text-anchor="middle">10<tspan dy="-2.6" font-size="4.4">3</tspan></text>
<line x1="511.00" y1="238.40" x2="511.00" y2="239.60" stroke="#888" stroke-width="0.6"/>
<text x="512.20" y="245.80" font-size="6.6" fill="#111" text-anchor="middle">10<tspan dy="-2.6" font-size="4.4">4</tspan></text>
<text transform="translate(428.00,155.40) rotate(-90)" font-size="6.6" fill="#222" text-anchor="end">16</text>
<text transform="translate(427.80,238.90) rotate(-90)" font-size="6.6" fill="#222" text-anchor="middle">0</text>
<line x1="14.2" y1="262.7" x2="511.5" y2="262.7" stroke="#000" stroke-width="1.5"/>
<path d="M506.4,259.5 L511.7,262.7 L506.4,265.9" fill="none" stroke="#000" stroke-width="1.7"/>
<text x="467.3" y="279.2" font-size="14.1" font-weight="bold">CD56</text>
<text x="1.3" y="313.8" font-size="17.4" font-weight="bold">B</text>
<text x="143.9" y="309.2" font-size="12.8" font-weight="bold" text-anchor="middle">CD56 %</text>
<line x1="56.40" y1="323.50" x2="56.40" y2="456.30" stroke="#000" stroke-width="1.5"/>
<line x1="52.20" y1="455.60" x2="56.40" y2="455.60" stroke="#000" stroke-width="1.4"/>
<text transform="translate(51.40,459.20) scale(0.93,1)" font-size="10.2" font-weight="bold" text-anchor="end">0</text>
<line x1="52.20" y1="429.30" x2="56.40" y2="429.30" stroke="#000" stroke-width="1.4"/>
<text transform="translate(51.40,432.90) scale(0.93,1)" font-size="10.2" font-weight="bold" text-anchor="end">25</text>
<line x1="52.20" y1="403.00" x2="56.40" y2="403.00" stroke="#000" stroke-width="1.4"/>
<text transform="translate(51.40,406.60) scale(0.93,1)" font-size="10.2" font-weight="bold" text-anchor="end">50</text>
<line x1="52.20" y1="376.70" x2="56.40" y2="376.70" stroke="#000" stroke-width="1.4"/>
<text transform="translate(51.40,380.30) scale(0.93,1)" font-size="10.2" font-weight="bold" text-anchor="end">75</text>
<line x1="52.20" y1="350.40" x2="56.40" y2="350.40" stroke="#000" stroke-width="1.4"/>
<text transform="translate(51.40,354.00) scale(0.93,1)" font-size="10.2" font-weight="bold" text-anchor="end">100</text>
<line x1="52.20" y1="324.10" x2="56.40" y2="324.10" stroke="#000" stroke-width="1.4"/>
<text transform="translate(51.40,327.70) scale(0.93,1)" font-size="10.2" font-weight="bold" text-anchor="end">125</text>
<line x1="55.70" y1="455.60" x2="254.40" y2="455.60" stroke="#000" stroke-width="1.5"/>
<line x1="72.70" y1="447.71" x2="72.70" y2="448.87" stroke="#000" stroke-width="1.5"/>
<line x1="66.90" y1="447.71" x2="78.50" y2="447.71" stroke="#000" stroke-width="1.6"/>
<rect x="61.10" y="448.87" width="23.2" height="6.73" fill="#000"/>
<line x1="72.70" y1="455.60" x2="72.70" y2="459.00" stroke="#000" stroke-width="1.4"/>
<line x1="105.60" y1="442.45" x2="105.60" y2="444.55" stroke="#000" stroke-width="1.5"/>
<line x1="99.80" y1="442.45" x2="111.40" y2="442.45" stroke="#000" stroke-width="1.6"/>
<rect x="94.00" y="444.55" width="23.2" height="11.05" fill="#000"/>
<line x1="105.60" y1="455.60" x2="105.60" y2="459.00" stroke="#000" stroke-width="1.4"/>
<line x1="138.50" y1="445.61" x2="138.50" y2="448.24" stroke="#000" stroke-width="1.5"/>
<line x1="132.70" y1="445.61" x2="144.30" y2="445.61" stroke="#000" stroke-width="1.6"/>
<rect x="126.90" y="448.24" width="23.2" height="7.36" fill="#000"/>
<line x1="138.50" y1="455.60" x2="138.50" y2="459.00" stroke="#000" stroke-width="1.4"/>
<line x1="171.40" y1="393.53" x2="171.40" y2="400.37" stroke="#000" stroke-width="1.5"/>
<line x1="165.60" y1="393.53" x2="177.20" y2="393.53" stroke="#000" stroke-width="1.6"/>
<rect x="159.80" y="400.37" width="23.2" height="55.23" fill="#000"/>
<line x1="171.40" y1="455.60" x2="171.40" y2="459.00" stroke="#000" stroke-width="1.4"/>
<line x1="204.30" y1="410.36" x2="204.30" y2="420.88" stroke="#000" stroke-width="1.5"/>
<line x1="198.50" y1="410.36" x2="210.10" y2="410.36" stroke="#000" stroke-width="1.6"/>
<rect x="192.70" y="420.88" width="23.2" height="34.72" fill="#000"/>
<line x1="204.30" y1="455.60" x2="204.30" y2="459.00" stroke="#000" stroke-width="1.4"/>
<line x1="237.20" y1="424.04" x2="237.20" y2="430.88" stroke="#000" stroke-width="1.5"/>
<line x1="231.40" y1="424.04" x2="243.00" y2="424.04" stroke="#000" stroke-width="1.6"/>
<rect x="225.60" y="430.88" width="23.2" height="24.72" fill="#000"/>
<line x1="237.20" y1="455.60" x2="237.20" y2="459.00" stroke="#000" stroke-width="1.4"/>
<text transform="translate(74.10,468.80) rotate(-45)" font-size="9.6" font-weight="bold" text-anchor="end">IL-3</text>
<text transform="translate(107.00,468.80) rotate(-45)" font-size="9.6" font-weight="bold" text-anchor="end">CpG C</text>
<text transform="translate(139.90,468.80) rotate(-45)" font-size="9.6" font-weight="bold" text-anchor="end">R848</text>
<path d="M162.40,463.9 L162.40,477.6 L236.70,477.6 Z" fill="#000"/>
<text x="199.50" y="491.5" font-size="10.2" font-weight="bold" text-anchor="middle">FSME</text>
<text transform="translate(29.10,390.65) rotate(-90)" font-size="10.8" font-weight="bold" text-anchor="middle">Receptor expression (%)</text>
<text x="401.2" y="309.2" font-size="12.8" font-weight="bold" text-anchor="middle">CD56 MFI</text>
<line x1="313.70" y1="323.50" x2="313.70" y2="456.30" stroke="#000" stroke-width="1.5"/>
<line x1="309.50" y1="455.60" x2="313.70" y2="455.60" stroke="#000" stroke-width="1.4"/>
<text transform="translate(308.70,459.20) scale(0.93,1)" font-size="10.2" font-weight="bold" text-anchor="end">0</text>
<line x1="309.50" y1="429.30" x2="313.70" y2="429.30" stroke="#000" stroke-width="1.4"/>
<text transform="translate(308.70,432.90) scale(0.93,1)" font-size="10.2" font-weight="bold" text-anchor="end">20</text>
<line x1="309.50" y1="403.00" x2="313.70" y2="403.00" stroke="#000" stroke-width="1.4"/>
<text transform="translate(308.70,406.60) scale(0.93,1)" font-size="10.2" font-weight="bold" text-anchor="end">40</text>
<line x1="309.50" y1="376.70" x2="313.70" y2="376.70" stroke="#000" stroke-width="1.4"/>
<text transform="translate(308.70,380.30) scale(0.93,1)" font-size="10.2" font-weight="bold" text-anchor="end">60</text>
<line x1="309.50" y1="350.40" x2="313.70" y2="350.40" stroke="#000" stroke-width="1.4"/>
<text transform="translate(308.70,354.00) scale(0.93,1)" font-size="10.2" font-weight="bold" text-anchor="end">80</text>
<line x1="309.50" y1="324.10" x2="313.70" y2="324.10" stroke="#000" stroke-width="1.4"/>
<text transform="translate(308.70,327.70) scale(0.93,1)" font-size="10.2" font-weight="bold" text-anchor="end">100</text>
<line x1="313.00" y1="455.60" x2="511.70" y2="455.60" stroke="#000" stroke-width="1.5"/>
<line x1="330.00" y1="446.40" x2="330.00" y2="447.97" stroke="#000" stroke-width="1.5"/>
<line x1="324.20" y1="446.40" x2="335.80" y2="446.40" stroke="#000" stroke-width="1.6"/>
<rect x="318.40" y="447.97" width="23.2" height="7.63" fill="#000"/>
<line x1="330.00" y1="455.60" x2="330.00" y2="459.00" stroke="#000" stroke-width="1.4"/>
<line x1="362.90" y1="442.45" x2="362.90" y2="445.61" stroke="#000" stroke-width="1.5"/>
<line x1="357.10" y1="442.45" x2="368.70" y2="442.45" stroke="#000" stroke-width="1.6"/>
<rect x="351.30" y="445.61" width="23.2" height="9.99" fill="#000"/>
<line x1="362.90" y1="455.60" x2="362.90" y2="459.00" stroke="#000" stroke-width="1.4"/>
<line x1="395.80" y1="443.11" x2="395.80" y2="445.08" stroke="#000" stroke-width="1.5"/>
<line x1="390.00" y1="443.11" x2="401.60" y2="443.11" stroke="#000" stroke-width="1.6"/>
<rect x="384.20" y="445.08" width="23.2" height="10.52" fill="#000"/>
<line x1="395.80" y1="455.60" x2="395.80" y2="459.00" stroke="#000" stroke-width="1.4"/>
<line x1="428.70" y1="334.62" x2="428.70" y2="364.60" stroke="#000" stroke-width="1.5"/>
<line x1="422.90" y1="334.62" x2="434.50" y2="334.62" stroke="#000" stroke-width="1.6"/>
<rect x="417.10" y="364.60" width="23.2" height="91.00" fill="#000"/>
<line x1="428.70" y1="455.60" x2="428.70" y2="459.00" stroke="#000" stroke-width="1.4"/>
<line x1="461.60" y1="368.81" x2="461.60" y2="393.80" stroke="#000" stroke-width="1.5"/>
<line x1="455.80" y1="368.81" x2="467.40" y2="368.81" stroke="#000" stroke-width="1.6"/>
<rect x="450.00" y="393.80" width="23.2" height="61.81" fill="#000"/>
<line x1="461.60" y1="455.60" x2="461.60" y2="459.00" stroke="#000" stroke-width="1.4"/>
<line x1="494.50" y1="374.07" x2="494.50" y2="400.37" stroke="#000" stroke-width="1.5"/>
<line x1="488.70" y1="374.07" x2="500.30" y2="374.07" stroke="#000" stroke-width="1.6"/>
<rect x="482.90" y="400.37" width="23.2" height="55.23" fill="#000"/>
<line x1="494.50" y1="455.60" x2="494.50" y2="459.00" stroke="#000" stroke-width="1.4"/>
<text transform="translate(331.40,468.80) rotate(-45)" font-size="9.6" font-weight="bold" text-anchor="end">IL-3</text>
<text transform="translate(364.30,468.80) rotate(-45)" font-size="9.6" font-weight="bold" text-anchor="end">CpG C</text>
<text transform="translate(397.20,468.80) rotate(-45)" font-size="9.6" font-weight="bold" text-anchor="end">R848</text>
<path d="M419.70,463.9 L419.70,477.6 L494.00,477.6 Z" fill="#000"/>
<text x="456.80" y="491.5" font-size="10.2" font-weight="bold" text-anchor="middle">FSME</text>
<text transform="translate(286.40,390.65) rotate(-90)" font-size="10.8" font-weight="bold" text-anchor="middle">Receptor expression (MFI)</text>
</svg>
</body></html>
